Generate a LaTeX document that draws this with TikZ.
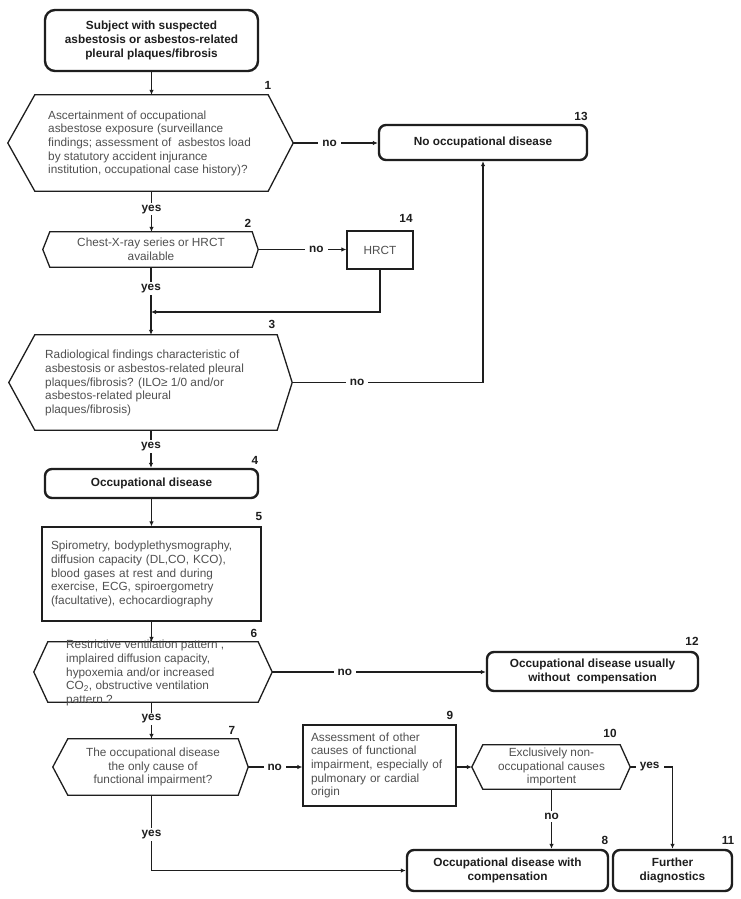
\documentclass[tikz,border=0pt]{standalone}
\usepackage{fontspec}
\setmainfont{Liberation Sans}
\usetikzlibrary{arrows.meta,calc}
\definecolor{txtgray}{RGB}{80,80,80}
\definecolor{ink}{RGB}{30,30,30}
\newcommand\hexdraw[3]{%
  \coordinate (#1e) at ($(#1.east)+(#3,0)$);
  \coordinate (#1w) at ($(#1.west)-(#2,0)$);
  \draw[hexline] (#1.north west) -- (#1.north east) -- (#1e) -- (#1.south east) -- (#1.south west) -- (#1w) -- cycle;}
\begin{document}
\begin{tikzpicture}[x=1pt,y=-1pt,
  every node/.style={font=\fontsize{11.8}{13.6}\selectfont},
  endbox/.style={draw=ink, line width=2.4pt, rounded corners=7pt, font=\fontsize{11.8}{13.6}\selectfont\bfseries, text=ink, align=center, inner sep=0pt},
  procbox/.style={draw=ink, line width=1.3pt, text=txtgray, inner sep=0pt},
  hexframe/.style={draw=none, inner sep=0pt, text=txtgray, align=center},
  hexline/.style={draw=ink, line width=1.3pt, line join=miter},
  gtext/.style={text=txtgray, align=left, inner sep=0pt},
  num/.style={font=\fontsize{11.8}{13.6}\selectfont\bfseries, text=ink, inner sep=0pt},
  lbl/.style={font=\fontsize{11.8}{13.6}\selectfont\bfseries, text=ink, fill=white, inner xsep=4pt, inner ysep=2pt},
  conn/.style={draw=ink, line width=1.2pt, -{Latex[length=5pt,width=4.5pt]}},
]
\useasboundingbox (0,0) rectangle (740,899);
\fill[white] (0,0) rectangle (740,899);

% start
\node[endbox, rounded corners=10pt, minimum width=213pt, minimum height=61pt] (n0) at (151.5,40.5)
  {Subject with suspected\\asbestosis or asbestos-related\\pleural plaques/fibrosis};

% 1
\node[hexframe, minimum width=233pt, minimum height=96pt] (h1) at (151.5,143) {};
\hexdraw{h1}{27}{25}
\node[gtext, anchor=west] (t1) at (48,143.5)
  {Ascertainment of occupational\\asbestose exposure (surveillance\\findings; assessment of \ asbestos load\\by statutory accident injurance\\institution, occupational case history)?};

% 13
\node[endbox, minimum width=208pt, minimum height=35pt] (n13) at (483,142.5) {No occupational disease};

% 2
\node[hexframe, minimum width=202pt, minimum height=35pt] (h2) at (151,249.5) {Chest-X-ray series or HRCT\\available};
\hexdraw{h2}{7}{6}

% 14
\node[procbox, minimum width=66pt, minimum height=38pt] (n14) at (380,250) {HRCT};

% 3
\node[hexframe, minimum width=242pt, minimum height=95pt] (h3) at (156,382.5) {};
\hexdraw{h3}{26}{15}
\node[gtext, anchor=west] (t3) at (45,383)
  {Radiological findings characteristic of\\asbestosis or asbestos-related pleural\\plaques/fibrosis? (ILO≥ 1/0 and/or\\asbestos-related pleural\\plaques/fibrosis)};

% 4
\node[endbox, minimum width=213pt, minimum height=29pt] (n4) at (151.5,483.5) {Occupational disease};

% 5
\node[procbox, minimum width=219pt, minimum height=94pt, text width=201pt, align=left] (n5) at (151.5,574)
  {Spirometry, bodyplethysmography,\\diffusion capacity (DL,CO, KCO),\\blood gases at rest and during\\exercise, ECG, spiroergometry\\(facultative), echocardiography};

% 6
\node[hexframe, minimum width=210pt, minimum height=60pt] (h6) at (153,672) {};
\hexdraw{h6}{14}{14}
\node[gtext, anchor=west] (t6) at (66,673)
  {Restrictive ventilation pattern ,\\implaired diffusion capacity,\\hypoxemia and/or increased\\CO\textsubscript{2}, obstructive ventilation\\pattern ?};

% 12
\node[endbox, minimum width=211pt, minimum height=39pt] (n12) at (592.5,671.5) {Occupational disease usually\\without \ compensation};

% 7
\node[hexframe, minimum width=170pt, minimum height=56pt] (h7) at (153,767) {The occupational disease\\the only cause of\\functional impairment?};
\hexdraw{h7}{15}{10}

% 9
\node[procbox, minimum width=153pt, minimum height=81pt, text width=137pt, align=left] (n9) at (379.5,765.5)
  {Assessment of other\\causes of functional\\impairment, especially of\\pulmonary or cardial\\origin};

% 10
\node[hexframe, minimum width=137pt, minimum height=44pt] (h10) at (551.5,767) {Exclusively non-\\occupational causes\\importent};
\hexdraw{h10}{11}{10}

% 8, 11
\node[endbox, minimum width=201pt, minimum height=41pt] (n8) at (507.5,870.5) {Occupational disease with\\compensation};
\node[endbox, minimum width=119pt, minimum height=41pt] (n11) at (672.5,870.5) {Further\\diagnostics};

% numbers
\node[num] (k1) at (268,85) {1};
\node[num] (k13) at (581,116) {13};
\node[num] (k14) at (406,218) {14};
\node[num] (k2) at (248,223) {2};
\node[num] (k3) at (272,324) {3};
\node[num] (k4) at (255,460) {4};
\node[num] (k5) at (259,516) {5};
\node[num] (k6) at (254,633) {6};
\node[num] (k12) at (692,641) {12};
\node[num] (k7) at (232,730) {7};
\node[num] (k9) at (450,715) {9};
\node[num] (k10) at (610,733) {10};
\node[num] (k8) at (605,840) {8};
\node[num] (k11) at (728,840) {11};

% connectors
\draw[conn] (n0.south) -- (n0.south |- h1.north);
\draw[conn] (h1e) -- node[lbl,pos=0.43]{no} (h1e -| n13.west);
\draw[conn] (h1.south) -- node[lbl,pos=0.44]{yes} (h1.south |- h2.north);
\draw[conn] (h2e) -- node[lbl,pos=0.66]{no} (h2e -| n14.west);
\draw[conn] (h2.south) -- node[lbl,pos=0.32]{yes} (h2.south |- h3.north);
\coordinate (m1) at (151,312);
\draw[conn] (n14.south) |- (m1);
\draw[conn] (h3e) -- node[lbl,pos=0.34]{no} (h3e -| n13.south) -- (n13.south);
\draw[conn] (h2.south |- h3.south) -- node[lbl,pos=0.44]{yes} (h2.south |- n4.north);
\draw[conn] (n4.south) -- (n5.north);
\draw[conn] (n5.south) -- (n5.south |- h6.north);
\draw[conn] (h6e) -- node[lbl,pos=0.34]{no} (h6e -| n12.west);
\draw[conn] (n5.south |- h6.south) -- node[lbl,pos=0.46]{yes} (n5.south |- h7.north);
\draw[conn] (h7e) -- node[lbl,pos=0.49]{no} (h7e -| n9.west);
\draw[conn] (n9.east |- h10w) -- (h10w);
\draw[conn] (h10e) -| node[lbl,pos=0.23]{yes} (n11.north);
\draw[conn] (h10.south) -- node[lbl,pos=0.46]{no} (h10.south |- n8.north);
\draw[conn] (n5.south |- h7.south) |- node[lbl,pos=0.26]{yes} (n8.west);
\end{tikzpicture}
\end{document}
